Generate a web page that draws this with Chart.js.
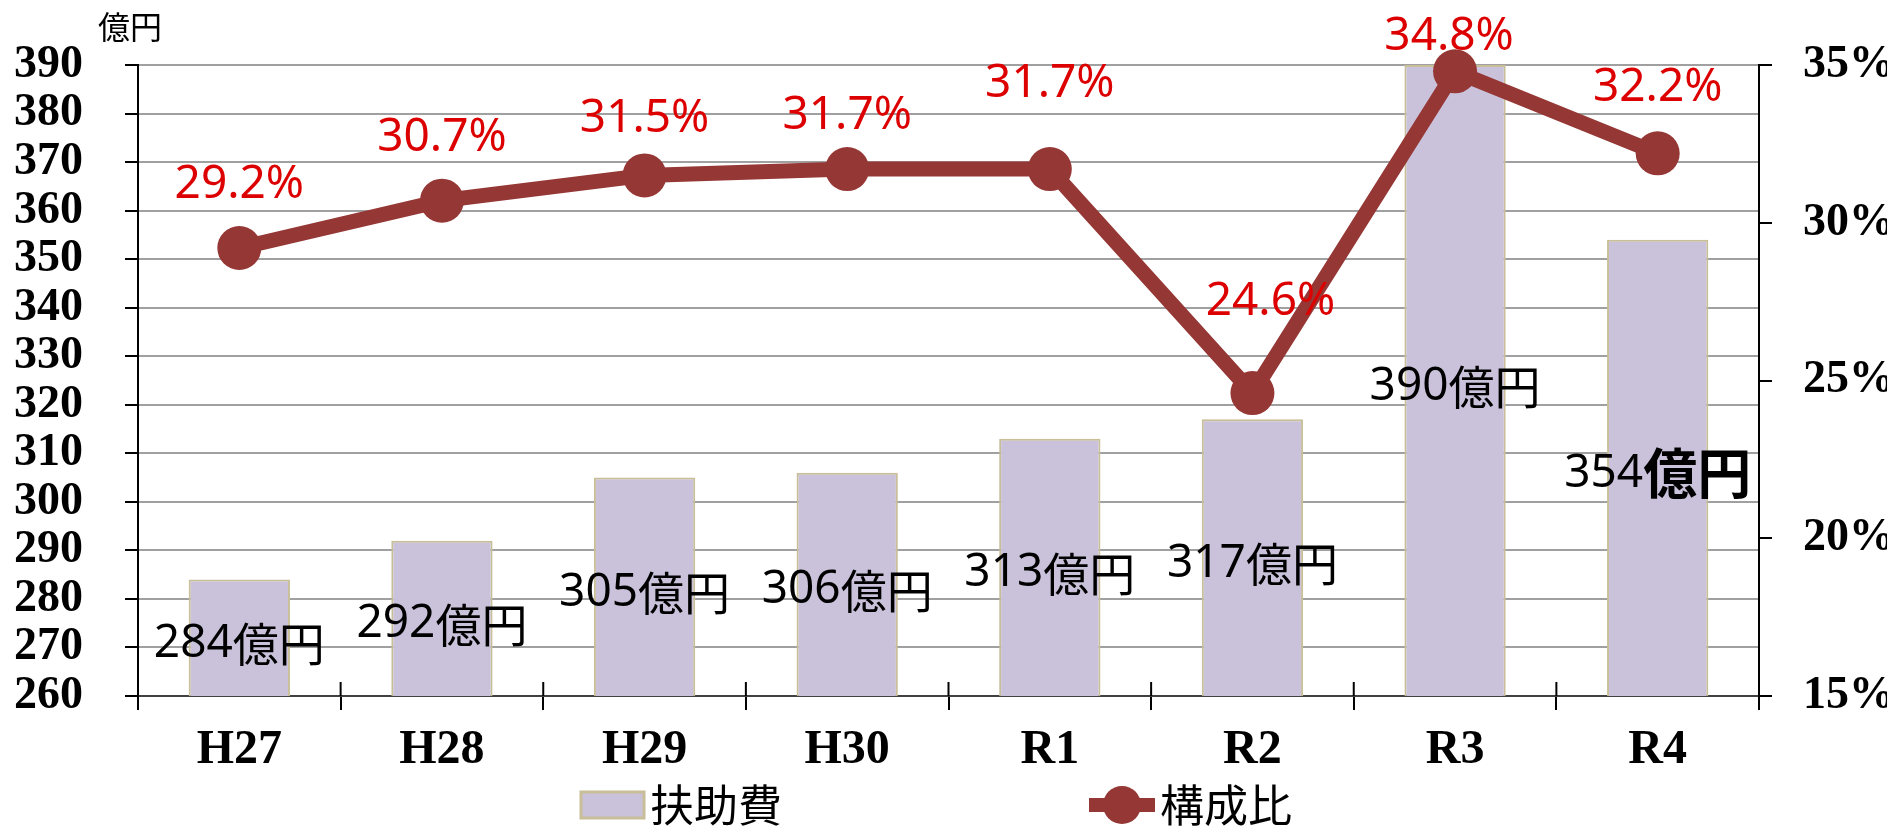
<!DOCTYPE html>
<html lang="ja">
<head>
  <meta charset="UTF-8" />
  <title>扶助費と構成比</title>
  <script src="https://cdn.jsdelivr.net/npm/chart.js"></script>
  <style>
    html, body { margin: 0; padding: 0; background: #fff; }
    canvas { display: block; }
  </style>
</head>
<body>

<canvas id="chart" width="1887" height="826"></canvas>

<script>
  // 年度・扶助費(億円)・構成比(%)
  const years = ["H27", "H28", "H29", "H30", "R1", "R2", "R3", "R4"];
  const fujohi = [284, 292, 305, 306, 313, 317, 390, 354];
  const kouseihi = [29.2, 30.7, 31.5, 31.7, 31.7, 24.6, 34.8, 32.2];

  // ラベル位置の微調整 (点からの高さ, 横ずれ)
  const pctLift = [63, 63, 57, 53, 85, 91, 34, 65];
  const pctShift = [0, 0, 0, 0, 0, 18, -6, 0];
  const bigUnitIndex = 7;

  const BAR_FILL = "#CAC2DA";
  const BAR_EDGE = "#C8BE98";
  const LINE_COL = "#953735";
  const RED = "#DD0000";
  const SERIF = "'Liberation Serif', 'Times New Roman', serif";
  const SANS = "'Noto Sans', 'Noto Sans CJK JP', sans-serif";
  const CJK = "'Noto Sans CJK JP', sans-serif";

  const labelPlugin = {
    id: "labels",
    afterDatasetsDraw(chart) {
      const ctx = chart.ctx;
      const ys = chart.scales.y;
      const bars = chart.getDatasetMeta(0).data;
      const pts = chart.getDatasetMeta(1).data;
      const basePx = ys.getPixelForValue(ys.min);
      ctx.save();
      ctx.textBaseline = "middle";
      ctx.textAlign = "left";

      bars.forEach((bar, i) => {
        const bx = bar.x;
        const topPx = ys.getPixelForValue(fujohi[i]);
        const cy = (topPx + basePx) / 2 + 6;
        const num = String(fujohi[i]);
        const numFont = "46px " + SANS;
        const unitFont = i === bigUnitIndex ? "bold 54px " + CJK : "46px " + CJK;
        ctx.font = numFont;
        const w1 = ctx.measureText(num).width;
        ctx.font = unitFont;
        const w2 = ctx.measureText("億円").width;
        const x = bx - (w1 + w2) / 2;
        ctx.fillStyle = "#000";
        ctx.font = numFont;
        ctx.fillText(num, x, cy);
        ctx.font = unitFont;
        ctx.fillText("億円", x + w1, cy);
      });

      ctx.textAlign = "center";
      ctx.fillStyle = RED;
      ctx.font = "46px " + SANS;
      pts.forEach((p, i) => {
        ctx.fillText(kouseihi[i].toFixed(1) + "%", p.x + pctShift[i], p.y - pctLift[i]);
      });
      ctx.restore();
    },
    afterDraw(chart) {
      const ctx = chart.ctx;
      const area = chart.chartArea;
      const xs = chart.scales.x;
      ctx.save();

      // 目盛り線を軸の上側にも
      ctx.strokeStyle = "#000";
      ctx.lineWidth = 2;
      const edges = [area.left, area.right];
      for (let i = 1; i < years.length; i++) {
        edges.push((xs.getPixelForValue(i - 1) + xs.getPixelForValue(i)) / 2);
      }
      edges.forEach(x => {
        ctx.beginPath();
        ctx.moveTo(x, area.bottom - 14);
        ctx.lineTo(x, area.bottom);
        ctx.stroke();
      });

      // 単位
      ctx.fillStyle = "#000";
      ctx.font = "32px " + CJK;
      ctx.textBaseline = "middle";
      ctx.textAlign = "left";
      ctx.fillText("億円", 98, 27);

      // 凡例
      const ly = 805;
      ctx.fillStyle = BAR_FILL;
      ctx.fillRect(581, ly - 13, 63, 26);
      ctx.strokeStyle = BAR_EDGE;
      ctx.lineWidth = 3;
      ctx.strokeRect(581, ly - 13, 63, 26);
      ctx.fillStyle = "#000";
      ctx.font = "44px " + CJK;
      ctx.fillText(chart.data.datasets[0].label, 650, ly);

      ctx.strokeStyle = LINE_COL;
      ctx.lineWidth = 14;
      ctx.beginPath();
      ctx.moveTo(1089, ly);
      ctx.lineTo(1155, ly);
      ctx.stroke();
      ctx.fillStyle = LINE_COL;
      ctx.beginPath();
      ctx.arc(1122, ly, 19, 0, Math.PI * 2);
      ctx.fill();
      ctx.fillStyle = "#000";
      ctx.fillText(chart.data.datasets[1].label, 1160, ly);

      ctx.restore();
    }
  };

  new Chart(document.getElementById("chart"), {
    data: {
      labels: years,
      datasets: [
        {
          type: "bar",
          label: "扶助費",
          data: fujohi,
          yAxisID: "y",
          backgroundColor: BAR_FILL,
          borderColor: BAR_EDGE,
          borderWidth: 2,
          barPercentage: 0.5,
          categoryPercentage: 1,
          order: 2
        },
        {
          type: "line",
          label: "構成比",
          data: kouseihi,
          yAxisID: "y1",
          borderColor: LINE_COL,
          backgroundColor: LINE_COL,
          borderWidth: 15,
          pointRadius: 22,
          pointHoverRadius: 22,
          pointBorderWidth: 0,
          pointBackgroundColor: LINE_COL,
          tension: 0,
          clip: false,
          order: 1
        }
      ]
    },
    options: {
      responsive: false,
      animation: false,
      layout: { padding: { top: 64, left: 0, right: 0, bottom: 50 } },
      plugins: { legend: { display: false }, tooltip: { enabled: false } },
      scales: {
        x: {
          offset: true,
          grid: { offset: true, drawOnChartArea: false, color: "#000", lineWidth: 2, tickLength: 14 },
          border: { color: "#404040", width: 2 },
          ticks: { color: "#000", padding: 12, font: { family: SERIF, size: 48, weight: "bold" } },
          afterFit(s) { s.height = 80; }
        },
        y: {
          position: "left",
          min: 260,
          max: 390,
          ticks: { stepSize: 10, autoSkip: false, color: "#000", padding: 42, font: { family: SERIF, size: 46, weight: "bold", lineHeight: 1 } },
          grid: { color: "#A0A0A0", lineWidth: 2, tickColor: "#000", tickLength: 13 },
          border: { color: "#000", width: 2 },
          afterFit(s) { s.width = 138; }
        },
        y1: {
          position: "right",
          min: 15,
          max: 35,
          ticks: { stepSize: 5, autoSkip: false, color: "#000", padding: 31, callback: v => v + "%", font: { family: SERIF, size: 46, weight: "bold" } },
          grid: { drawOnChartArea: false, color: "#000", lineWidth: 2, tickLength: 13 },
          border: { color: "#000", width: 2 },
          afterFit(s) { s.width = 128; }
        }
      }
    },
    plugins: [labelPlugin]
  });
</script>

</body>
</html>
